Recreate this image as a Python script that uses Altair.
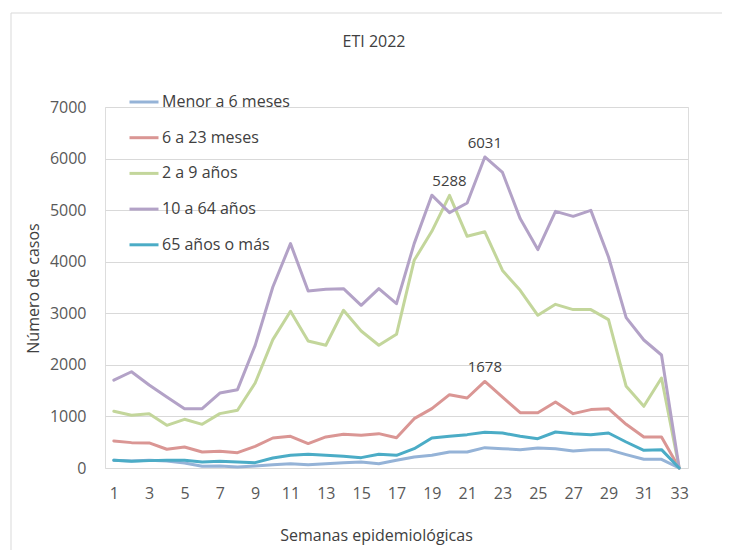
import altair as alt
import pandas as pd

weeks = list(range(1, 34))
series_names = ["Menor a 6 meses", "6 a 23 meses", "2 a 9 años", "10 a 64 años", "65 años o más"]
series_colors = ["#95B3D7", "#DA9694", "#C3D69B", "#B3A2C7", "#4BACC6"]

menor_6 = [149, 136, 149, 136, 97, 33, 40, 20, 40, 65, 84, 65, 84, 104, 116, 84, 149,
           213, 246, 310, 310, 395, 375, 356, 388, 375, 330, 356, 356, 259, 169, 169, 0]
m6_23 = [524, 492, 486, 363, 407, 310, 324, 298, 421, 582, 614, 473, 602, 653, 634, 666, 588,
         957, 1151, 1422, 1357, 1678, 1376, 1073, 1073, 1280, 1054, 1132, 1151, 847, 601, 601, 0]
a2_9 = [1099, 1022, 1054, 828, 944, 847, 1054, 1119, 1648, 2489, 3038, 2463, 2380, 3058, 2657,
        2380, 2592, 4027, 4590, 5288, 4493, 4580, 3830, 3446, 2961, 3174, 3071, 3071, 2877,
        1584, 1196, 1745, 0]
a10_64 = [1703, 1866, 1609, 1376, 1151, 1151, 1454, 1519, 2378, 3510, 4351, 3432, 3465, 3478,
          3155, 3478, 3186, 4351, 5290, 4952, 5139, 6031, 5730, 4836, 4235, 4977, 4880, 4996,
          4092, 2916, 2482, 2191, 0]
a65_mas = [149, 130, 143, 149, 149, 116, 130, 116, 104, 194, 246, 265, 246, 227, 201, 265, 246,
           375, 582, 614, 647, 692, 679, 614, 569, 698, 666, 647, 679, 504, 343, 356, 0]

label_weeks = [22, 20, 22]
label_values = [6031, 5288, 1678]
chart_title = "ETI 2022"

all_values = [menor_6, m6_23, a2_9, a10_64, a65_mas]
rows = []
for name, vals in zip(series_names, all_values):
    for w, v in zip(weeks, vals):
        rows.append({"semana": w, "casos": v, "grupo": name})
df = pd.DataFrame(rows)
labels_df = pd.DataFrame({"semana": label_weeks, "casos": label_values,
                          "txt": [str(v) for v in label_values]})

FONT = "Open Sans"

x_enc = alt.X("semana:Q",
              scale=alt.Scale(domain=[0.5, 33.5], nice=False, zero=False),
              axis=alt.Axis(values=list(range(1, 34, 2)), tickCount=40, grid=False, ticks=False,
                            domain=False, labelOverlap=False, labelFlush=False,
                            labelPadding=17, labelFontSize=16, labelColor="#595959",
                            labelFont=FONT, title="Semanas epidemiológicas",
                            titleFont=FONT, titleFontSize=16, titleFontWeight="normal",
                            titleColor="#404040", titleX=271, titleY=67,
                            titleBaseline="middle", titleAlign="center"))
y_enc = alt.Y("casos:Q",
              scale=alt.Scale(domain=[0, 7000], nice=False),
              axis=alt.Axis(values=list(range(0, 7001, 1000)), tickCount=20, format="d", grid=True,
                            gridColor="#D9D9D9", gridWidth=1, ticks=False, domain=False,
                            labelPadding=19, labelOverlap=False,
                            labelFontSize=16, labelColor="#595959", labelFont=FONT,
                            title="Número de casos", titleFont=FONT, titleFontSize=16,
                            titleFontWeight="normal", titleColor="#404040",
                            titleX=-72, titleY=181, titleBaseline="middle",
                            titleAlign="center", titleAngle=270))

lines = alt.Chart(df).mark_line(strokeWidth=3, strokeJoin="round", strokeCap="round").encode(
    x=x_enc,
    y=y_enc,
    color=alt.Color("grupo:N",
                    scale=alt.Scale(domain=series_names, range=series_colors),
                    sort=series_names,
                    legend=alt.Legend(title=None, orient="none", legendX=23, legendY=-21,
                                      symbolType="stroke", symbolSize=841,
                                      symbolStrokeWidth=3, labelFont=FONT,
                                      labelFontSize=16, labelColor="#404040",
                                      labelOffset=2, rowPadding=11.7)),
)

texts = alt.Chart(labels_df).mark_text(dy=-14, fontSize=15, font=FONT, color="#404040").encode(
    x="semana:Q", y="casos:Q", text="txt:N"
)

title_mark = alt.Chart(pd.DataFrame({"t": [chart_title]})).mark_text(
    font=FONT, fontSize=16, color="#404040", align="center", baseline="middle"
).encode(x=alt.value(269), y=alt.value(-65), text="t:N")

border_top = alt.Chart(pd.DataFrame({"a": [0]})).mark_rule(color="#D9D9D9", strokeWidth=1).encode(
    x=alt.value(-94), x2=alt.value(640), y=alt.value(-94)
)
border_left = alt.Chart(pd.DataFrame({"a": [0]})).mark_rule(color="#D9D9D9", strokeWidth=1).encode(
    x=alt.value(-94), y=alt.value(-94), y2=alt.value(460)
)

chart = alt.layer(border_top, border_left, lines, texts, title_mark).properties(
    width=583, height=361,
    autosize=alt.AutoSizeParams(type="none"),
    padding={"left": 97, "top": 99, "right": 34, "bottom": 82},
).configure_view(stroke=None).configure(background="white")

chart.save("out.html", embed_options={"renderer": "svg", "actions": False})
